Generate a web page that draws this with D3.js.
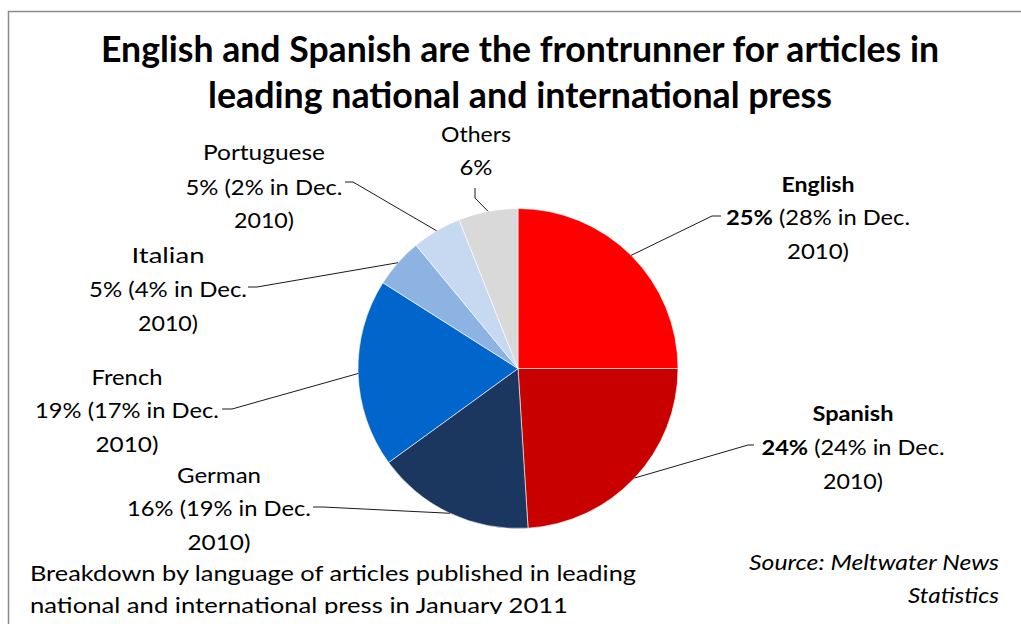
<!DOCTYPE html>
<html><head><meta charset="utf-8">
<script src="https://cdn.jsdelivr.net/npm/d3@7"></script>
<style>html,body{margin:0;padding:0;background:#fff;}svg{display:block;font-family:Lato,"Open Sans",sans-serif;}</style>
</head><body>
<script>
// ---- data ----
const languages = ["English","Spanish","German","French","Italian","Portuguese","Others"];
const shares = [25,24,16,19,5,5,6];
const decShares = [28,24,19,17,4,2,null];
const colors = ["#FF0000","#C80000","#1B3760","#0066CC","#8DB3E2","#C6D9F1","#D9D9D9"];
const titleLines = ["English and Spanish are the frontrunner for articles in","leading national and international press"];
const noteLines = ["Breakdown by language of articles published in leading","national and international press in January 2011"];
const sourceLines = ["Source: Meltwater News","Statistics"];

// ---- layout (label placement, not data) ----
const labelLayout = {
  English:   {cx:818, y:[192,225,259], w:[73,184,62], bold:true,  lead:[[721,216],[712,216]]},
  Spanish:   {cx:853, y:[421,455,489], w:[81,183,60], bold:true,  lead:[[754,445],[748,445]]},
  German:    {cx:219, y:[483,516,550], w:[84,184,63], bold:false, lead:[[313,507],[323,507]]},
  French:    {cx:127, y:[385,418,452], w:[71,184,63], bold:false, lead:[[222,409],[232,409]]},
  Italian:   {cx:168, y:[263,297,331], w:[73,158,60], bold:false, lead:[[248,287],[257,287]]},
  Portuguese:{cx:264, y:[160,195,228], w:[122,157,60],bold:false, lead:[[345,182],[353,182]]},
  Others:    {cx:476, y:[142,175],     w:[70,33],     bold:false, lead:[[475,188],[475,198]]}
};

const W=1021,H=624;
const svg=d3.select("body").append("svg").attr("width",W).attr("height",H);
svg.append("defs").append("clipPath").attr("id","clip").append("rect").attr("x",0).attr("y",0).attr("width",W).attr("height",614);

// frame (not clipped)
svg.append("path").attr("d",`M8.5,${H+10} V11.5 H${W+10}`).attr("fill","none").attr("stroke","#8a8a8a").attr("stroke-width",1.5);

const g=svg.append("g").attr("clip-path","url(#clip)");

// title
g.selectAll("text.title").data(titleLines).join("text").attr("class","title")
  .attr("x",520).attr("y",(d,i)=>62+i*46).attr("text-anchor","middle")
  .attr("font-weight",700).attr("font-size",36).attr("fill","#000")
  .attr("textLength",(d,i)=>[838,624][i]).attr("lengthAdjust","spacingAndGlyphs").text(d=>d);

// pie
const cx=518, cy=368.5, r=160;
const data=languages.map((n,i)=>({name:n,value:shares[i],dec:decShares[i],color:colors[i]}));
const pie=d3.pie().value(d=>d.value).sort(null);
const arcs=pie(data);
const arc=d3.arc().innerRadius(0).outerRadius(r);
const pg=g.append("g").attr("transform",`translate(${cx},${cy})`);
pg.selectAll("path").data(arcs).join("path").attr("d",arc)
  .attr("fill",d=>d.data.color).attr("stroke","#fff").attr("stroke-width",0.6);

// leader lines
const rim=d3.arc().innerRadius(r).outerRadius(r);
arcs.forEach(a=>{
  const L=labelLayout[a.data.name];
  const c=rim.centroid(a);
  const p=[[L.lead[0][0],L.lead[0][1]],[L.lead[1][0],L.lead[1][1]],[cx+c[0],cy+c[1]]];
  g.append("path").attr("d",d3.line()(p)).attr("fill","none").attr("stroke","#000").attr("stroke-width",0.9);
});

// labels
arcs.forEach(a=>{
  const d=a.data, L=labelLayout[d.name];
  const lines = d.dec==null ? [[{t:d.name}],[{t:d.value+"%"}]] :
    [[{t:d.name,b:L.bold}],[{t:d.value+"%",b:L.bold},{t:" ("+d.dec+"% in Dec."}],[{t:"2010)"}]];
  lines.forEach((ln,i)=>{
    const t=g.append("text").attr("x",L.cx).attr("y",L.y[i]).attr("text-anchor","middle")
      .attr("font-size",21).attr("fill","#000")
      .attr("textLength",L.w[i]).attr("lengthAdjust","spacingAndGlyphs");
    ln.forEach(s=>t.append("tspan").attr("font-weight",s.b?700:400).text(s.t));
  });
});

// note
g.selectAll("text.note").data(noteLines).join("text").attr("class","note")
  .attr("x",30).attr("y",(d,i)=>581+i*32).attr("font-size",21).attr("fill","#000")
  .attr("textLength",(d,i)=>[606,538][i]).attr("lengthAdjust","spacingAndGlyphs").text(d=>d);

// source
g.selectAll("text.src").data(sourceLines).join("text").attr("class","src")
  .attr("x",999).attr("y",(d,i)=>570+i*33).attr("text-anchor","end").attr("font-style","italic")
  .attr("font-size",21).attr("fill","#000")
  .attr("textLength",(d,i)=>[250,91][i]).attr("lengthAdjust","spacingAndGlyphs").text(d=>d);
</script>
</body></html>
